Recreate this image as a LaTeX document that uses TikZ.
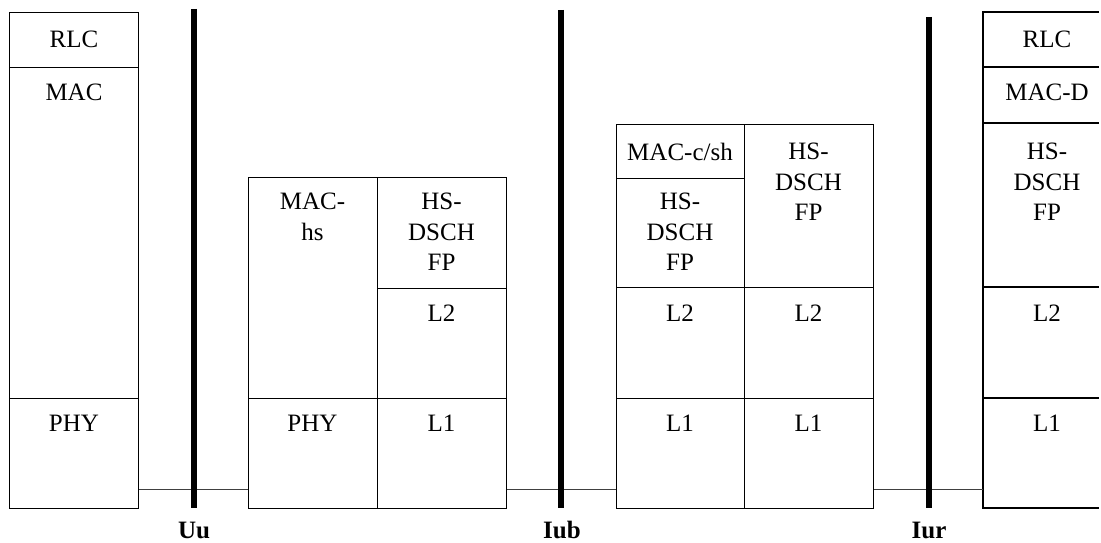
\documentclass[tikz,border=0pt]{standalone}
\usepackage{fontspec}
\setmainfont{Liberation Serif}
\begin{document}
\begin{tikzpicture}[x=1pt,y=-1pt,
  cell/.style={draw, line width=1.2pt, inner sep=0pt, anchor=north west},
  lbl/.style={anchor=north, inner sep=0pt, align=center, font=\fontsize{25}{30.5}\selectfont},
  bar/.style={line width=6pt},
  link/.style={line width=1pt, black!75},
  frame/.style={line width=1.2pt},
  iface/.style={anchor=base, inner sep=0pt, font=\fontsize{25}{30}\selectfont\bfseries}]
\useasboundingbox (0,0) rectangle (1101,543);
\coordinate (lnk) at (0,489);

% UE
\node[cell, minimum width=129pt, minimum height=55pt] (ueRLC) at (9,12) {};
\node[cell, minimum width=129pt, minimum height=331pt] (ueMAC) at (9,67) {};
\node[cell, minimum width=129pt, minimum height=110pt] (uePHY) at (9,398) {};
\node[lbl] (tueRLC) at (74,31) {RLC};
\node[lbl] (tueMAC) at (74,84) {MAC};
\node[lbl] (tuePHY) at (74,415) {PHY};

% Node B
\node[cell, minimum width=129pt, minimum height=221pt] (nbMAC) at (248,177) {};
\node[cell, minimum width=129pt, minimum height=110pt] (nbPHY) at (248,398) {};
\node[cell, minimum width=129pt, minimum height=111pt] (nbFP) at (377,177) {};
\node[cell, minimum width=129pt, minimum height=110pt] (nbL2) at (377,288) {};
\node[cell, minimum width=129pt, minimum height=110pt] (nbL1) at (377,398) {};
\node[lbl] (tnbMAC) at (312.5,193) {MAC-\\hs};
\node[lbl] (tnbPHY) at (312.5,415) {PHY};
\node[lbl] (tnbFP) at (441.5,193) {HS-\\DSCH\\FP};
\node[lbl] (tnbL2) at (441.5,305) {L2};
\node[lbl] (tnbL1) at (441.5,415) {L1};

% RNC
\node[cell, minimum width=128pt, minimum height=54pt] (rncMAC) at (616,124) {};
\node[cell, minimum width=128pt, minimum height=109pt] (rncFPl) at (616,178) {};
\node[cell, minimum width=128pt, minimum height=111pt] (rncL2l) at (616,287) {};
\node[cell, minimum width=128pt, minimum height=110pt] (rncL1l) at (616,398) {};
\node[cell, minimum width=129pt, minimum height=163pt] (rncFPr) at (744,124) {};
\node[cell, minimum width=129pt, minimum height=111pt] (rncL2r) at (744,287) {};
\node[cell, minimum width=129pt, minimum height=110pt] (rncL1r) at (744,398) {};
\node[lbl] (trncMAC) at (680,143) {MAC-c/sh};
\node[lbl] (trncFPl) at (680,193) {HS-\\DSCH\\FP};
\node[lbl] (trncL2l) at (680,305) {L2};
\node[lbl] (trncL1l) at (680,415) {L1};
\node[lbl] (trncFPr) at (808.5,143) {HS-\\DSCH\\FP};
\node[lbl] (trncL2r) at (808.5,305) {L2};
\node[lbl] (trncL1r) at (808.5,415) {L1};

% Drift RNC (open to the right)
\draw[frame] (1099,12) -- (983,12) -- (983,508) -- (1099,508);
\draw[frame] (983,67) -- (1099,67);
\draw[frame] (983,123) -- (1099,123);
\draw[frame] (983,287) -- (1099,287);
\draw[frame] (983,398) -- (1099,398);
\coordinate (drnc) at (983,398);
\node[lbl] (tdRLC) at (1047,31) {RLC};
\node[lbl] (tdMAC) at (1047,84) {MAC-D};
\node[lbl] (tdFP) at (1047,143) {HS-\\DSCH\\FP};
\node[lbl] (tdL2) at (1047,305) {L2};
\node[lbl] (tdL1) at (1047,415) {L1};

% links
\draw[link] (uePHY.east |- lnk) -- (nbPHY.west |- lnk);
\draw[link] (nbL1.east |- lnk) -- (rncL1l.west |- lnk);
\draw[link] (rncL1r.east |- lnk) -- (drnc |- lnk);

% interface bars
\coordinate (uuT) at (194,9);   \coordinate (uuB) at (194,508);
\coordinate (iubT) at (561,10); \coordinate (iubB) at (561,508);
\coordinate (iurT) at (929,17); \coordinate (iurB) at (929,508);
\draw[bar] (uuT) -- (uuB);
\draw[bar] (iubT) -- (iubB);
\draw[bar] (iurT) -- (iurB);

\node[iface] (uu) at (194,538) {Uu};
\node[iface] (iub) at (562,538) {Iub};
\node[iface] (iur) at (929,538) {Iur};
\end{tikzpicture}
\end{document}
